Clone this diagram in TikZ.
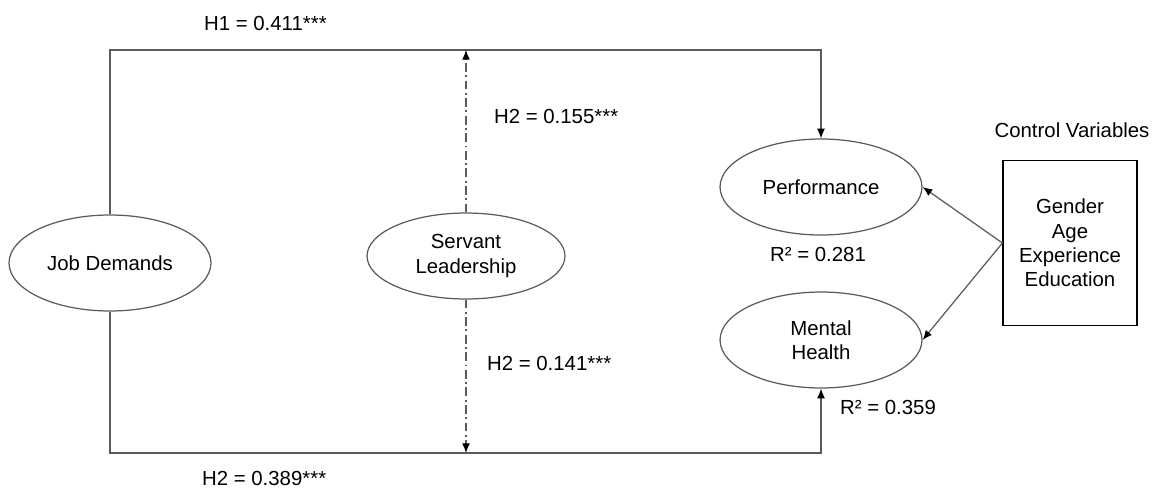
\documentclass[tikz,border=0pt]{standalone}
\usepackage{fontspec}
\setmainfont{Liberation Sans}
\usepackage{color}
\usepackage{tikz}
\usetikzlibrary{shapes.geometric}
\usetikzlibrary{arrows.meta}

\definecolor{linegray}{RGB}{90,90,90}

\begin{document}
\begin{tikzpicture}[x=0.02cm,y=-0.02cm,>={Latex[length=5.5pt,width=4.5pt,color=black]},
        var/.style={draw=linegray,ellipse,line width=0.7pt,inner sep=0pt,
            minimum width=4.04cm,minimum height=1.92cm,align=center},
        link/.style={draw=linegray,line width=0.7pt},
        modlink/.style={link,dash pattern=on 5pt off 2pt on 1pt off 2pt}]
    \fontsize{11.6}{13.8}\selectfont
    \useasboundingbox (0,0) rectangle (1165,490);

    \node[var] (jd) at (110,263) {Job Demands};
    \node[var,minimum width=3.96cm,minimum height=1.72cm] (sl) at (466,256) {Servant\\Leadership};
    \node[var] (perf) at (821,187) {Performance};
    \node[var] (mh) at (821,340) {Mental\\Health};
    \node[draw,line width=0.7pt,minimum width=2.68cm,minimum height=3.3cm,align=center]
        (ctrl) at (1070,243) {Gender\\Age\\Experience\\Education};
    \node (ctrltitle) at (1072,130) {Control Variables};

    \coordinate (tl) at (110,50);
    \coordinate (bl) at (110,453);

    \draw[link,->] (jd.north) -- (tl) -| (perf.north);
    \draw[link,->] (jd.south) -- (bl) -| (mh.south);
    \draw[modlink,->] (sl.north) -- (sl.north |- tl);
    \draw[modlink,->] (sl.south) -- (sl.south |- bl);
    \draw[link,->] (ctrl.west) -- (perf.east);
    \draw[link,->] (ctrl.west) -- (mh.east);

    \node[anchor=west] (h1) at (197,23) {H1 = 0.411***};
    \node[anchor=west] (h2top) at (487,116) {H2 = 0.155***};
    \node[anchor=west] (h2mid) at (480,363) {H2 = 0.141***};
    \node[anchor=west] (h2bot) at (195,478) {H2 = 0.389***};
    \node (r2perf) at (818,254) {R² = 0.281};
    \node (r2mh) at (888,407) {R² = 0.359};

\end{tikzpicture}
\end{document}
